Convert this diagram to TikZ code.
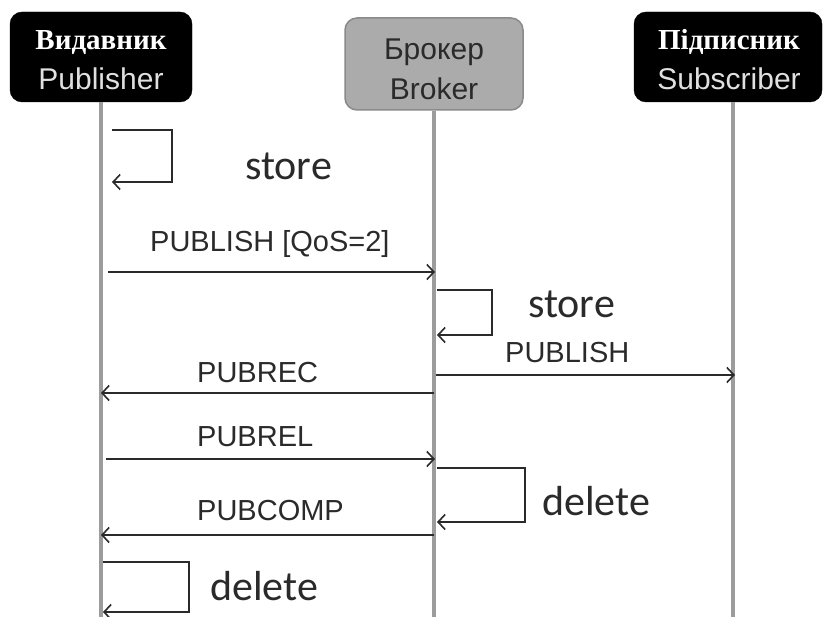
\documentclass[tikz,border=0pt]{standalone}
\usepackage{fontspec}
\setmainfont{Liberation Sans}
\newfontfamily\headserif{Liberation Serif}
\newfontfamily\notefont{Carlito}
\usepackage{tikz}
\usetikzlibrary{arrows.meta}

\definecolor{lifegray}{HTML}{9C9C9C}
\definecolor{brokerfill}{HTML}{ABABAB}
\definecolor{brokeredge}{HTML}{8A8A8A}
\definecolor{msgline}{HTML}{2A2A2A}
\definecolor{pubtext}{HTML}{E0E0E0}

\begin{document}
\begin{tikzpicture}[x=1pt,y=-1pt,
    >={Straight Barb[length=7pt,width=15pt]},
    actor/.style={rounded corners=12pt,fill=black,draw=black,
      minimum width=182pt,minimum height=90pt,inner sep=0pt},
    brokerbox/.style={actor,fill=brokerfill,draw=brokeredge,line width=1.5pt,
      minimum width=178pt,minimum height=92pt},
    boxtext/.style={align=center,inner sep=0pt,text=pubtext,
      font=\fontsize{30}{40}\selectfont},
    life/.style={lifegray,line width=4pt},
    msg/.style={msgline,line width=1.6pt,->},
    lbl/.style={font=\fontsize{29}{29}\selectfont,text=msgline,inner sep=0pt,anchor=base west},
    note/.style={font=\notefont\fontsize{42}{42}\selectfont,text=msgline,inner sep=0pt,anchor=base west}]

    \useasboundingbox[fill=white] (0,0) rectangle (826,617);

    % Actors
    \node[actor] (pub) at (101,57) {};
    \node[boxtext] (pubT) at (101,60)
      {\textcolor{white}{\headserif\bfseries\fontsize{29}{29}\selectfont Видавник}\\Publisher};
    \node[brokerbox] (brk) at (434,64) {};
    \node[boxtext,text=msgline] (brkT) at (434,69) {Брокер\\Broker};
    \node[actor,minimum width=188pt] (sub) at (728,57) {};
    \node[boxtext] (subT) at (729,60)
      {\textcolor{white}{\headserif\bfseries\fontsize{29}{29}\selectfont Підписник}\\Subscriber};

    % Lifelines
    \coordinate (pubEnd) at (101,617);
    \coordinate (brkEnd) at (434,617);
    \coordinate (subEnd) at (733,617);
    \draw[life] (pub.south) -- (pubEnd);
    \draw[life] (brk.south) -- (brkEnd);
    \draw[life] ([xshift=5pt]sub.south) -- (subEnd);

    % Message end points (approximate)
    \coordinate (pubS1) at (112,130);  % publisher store
    \coordinate (pubS2) at (112,182);
    \coordinate (pub1)  at (108,272);  % PUBLISH
    \coordinate (brk1)  at (435,272);
    \coordinate (brkS1) at (437,290);  % broker store
    \coordinate (brkS2) at (437,335);
    \coordinate (brk2)  at (436,375);  % PUBLISH to subscriber
    \coordinate (sub2)  at (735,375);
    \coordinate (brk3)  at (434,393);  % PUBREC
    \coordinate (pub3)  at (101,393);
    \coordinate (pub4)  at (106,459);  % PUBREL
    \coordinate (brk4)  at (435,459);
    \coordinate (brkD1) at (437,468);  % broker delete
    \coordinate (brkD2) at (437,522);
    \coordinate (brk5)  at (434,535);  % PUBCOMP
    \coordinate (pub5)  at (101,535);
    \coordinate (pubD1) at (103,562);  % publisher delete
    \coordinate (pubD2) at (103,612);

    % Publisher stores the message
    \draw[msg] (pubS1) -- ++(60,0) |- (pubS2);
    \node[note] (store1) at (245,180) {store};

    % PUBLISH with QoS 2
    \draw[msg] (pub1) -- (brk1);
    \node[lbl] (lPublish) at (150,252) {PUBLISH [QoS=2]};

    % Broker stores and forwards
    \draw[msg] (brkS1) -- ++(55,0) |- (brkS2);
    \node[note] (store2) at (528,317) {store};
    \draw[msg] (brk2) -- (sub2);
    \node[lbl] (lFwd) at (505,362) {PUBLISH};

    % PUBREC
    \draw[msg] (brk3) -- (pub3);
    \node[lbl] (lRec) at (197,382) {PUBREC};

    % PUBREL
    \draw[msg] (pub4) -- (brk4);
    \node[lbl] (lRel) at (197,446) {PUBREL};

    % Broker deletes
    \draw[msg] (brkD1) -- ++(88,0) |- (brkD2);
    \node[note] (del1) at (542,515) {delete};

    % PUBCOMP
    \draw[msg] (brk5) -- (pub5);
    \node[lbl] (lComp) at (197,520) {PUBCOMP};

    % Publisher deletes
    \draw[msg] (pubD1) -- ++(86,0) |- (pubD2);
    \node[note] (del2) at (210,600) {delete};

\end{tikzpicture}
\end{document}
